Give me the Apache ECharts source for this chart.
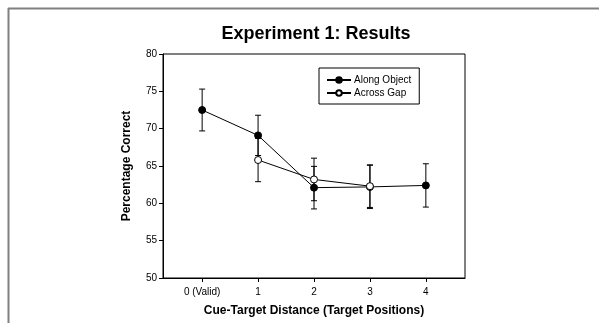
<!DOCTYPE html>
<html>
<head>
<meta charset="utf-8">
<script src="https://cdn.jsdelivr.net/npm/echarts@6/dist/echarts.min.js"></script>
<style>
  html, body { margin: 0; padding: 0; background: #fff; }
  #chart { width: 599px; height: 323px; }
</style>
</head>
<body>
<div id="chart"></div>
<script>
// data
const xLabels = ['0 (Valid)', '1', '2', '3', '4']
const alongX = [0, 1, 2, 3, 4]
const alongMean = [72.5, 69.1, 62.1, 62.2, 62.4]
const alongErr = [2.8, 2.7, 2.85, 2.9, 2.9]
const acrossX = [1, 2, 3]
const acrossMean = [65.8, 63.2, 62.3]
const acrossErr = [2.9, 2.85, 2.85]
const yTicks = [50, 55, 60, 65, 70, 75, 80]

const font = 'Arial, "Liberation Sans", sans-serif'

function pairs (xs, ys) {
  return xs.map((x, i) => [x, ys[i]])
}
function errRows (xs, ys, es) {
  return xs.map((x, i) => [x, ys[i] - es[i], ys[i] + es[i]])
}

// error bar drawer
function errorBar (params, api) {
  const lo = api.coord([api.value(0), api.value(1)])
  const hi = api.coord([api.value(0), api.value(2)])
  const cap = 3
  const style = { stroke: '#000', lineWidth: 1 }
  return {
    type: 'group',
    children: [
      { type: 'line', shape: { x1: lo[0], y1: lo[1], x2: hi[0], y2: hi[1] }, style: style },
      { type: 'line', shape: { x1: lo[0] - cap, y1: lo[1], x2: lo[0] + cap, y2: lo[1] }, style: style },
      { type: 'line', shape: { x1: hi[0] - cap, y1: hi[1], x2: hi[0] + cap, y2: hi[1] }, style: style }
    ]
  }
}

const chart = echarts.init(document.getElementById('chart'))
chart.setOption({
  animation: false,
  title: {
    text: 'Experiment 1: Results',
    left: 311,
    textAlign: 'center',
    top: 20,
    textStyle: { fontFamily: font, fontSize: 18, fontWeight: 'bold', color: '#000' }
  },
  grid: {
    left: 163,
    right: 134,
    top: 54,
    bottom: 45,
    show: true,
    borderColor: '#000',
    borderWidth: 1
  },
  legend: {
    orient: 'vertical',
    left: 319,
    top: 68,
    padding: [7, 8, 6, 7],
    itemGap: 3,
    itemWidth: 24,
    itemHeight: 7,
    borderColor: '#000',
    borderWidth: 1,
    data: ['Along Object', 'Across Gap'],
    textStyle: { fontFamily: font, fontSize: 10, color: '#000', padding: [0, 0, 0, -2] }
  },
  xAxis: {
    type: 'value',
    min: -0.7,
    max: 4.7,
    interval: 1,
    name: 'Cue-Target Distance (Target Positions)',
    nameLocation: 'middle',
    nameGap: 27,
    nameTextStyle: { fontFamily: font, fontSize: 12, fontWeight: 'bold', color: '#000' },
    axisLine: { onZero: false, lineStyle: { color: '#000' } },
    axisTick: { show: true, length: 4, lineStyle: { color: '#000' }, customValues: alongX },
    splitLine: { show: false },
    axisLabel: {
      fontFamily: font,
      fontSize: 10,
      color: '#000',
      margin: 9,
      customValues: alongX,
      formatter: v => xLabels[alongX.indexOf(v)] || ''
    }
  },
  yAxis: {
    type: 'value',
    min: 50,
    max: 80,
    interval: 5,
    name: 'Percentage Correct',
    nameLocation: 'middle',
    nameGap: 30,
    nameTextStyle: { fontFamily: font, fontSize: 12, fontWeight: 'bold', color: '#000' },
    axisLine: { show: true, onZero: false, lineStyle: { color: '#000' } },
    axisTick: { show: true, length: 4, lineStyle: { color: '#000' } },
    splitLine: { show: false },
    axisLabel: {
      fontFamily: font,
      fontSize: 10,
      color: '#000',
      margin: 6,
      formatter: v => (yTicks.indexOf(v) >= 0 ? String(v) : '')
    }
  },
  graphic: [
    // outer gray frame (left and top edges)
    { type: 'line', shape: { x1: 8.5, y1: 8, x2: 8.5, y2: 323 }, style: { stroke: '#808080', lineWidth: 2 } },
    { type: 'line', shape: { x1: 8, y1: 8.5, x2: 599, y2: 8.5 }, style: { stroke: '#808080', lineWidth: 2 } }
  ],
  series: [
    {
      type: 'custom',
      renderItem: errorBar,
      data: errRows(alongX, alongMean, alongErr),
      z: 1
    },
    {
      type: 'custom',
      renderItem: errorBar,
      data: errRows(acrossX, acrossMean, acrossErr),
      z: 1
    },
    {
      name: 'Along Object',
      type: 'line',
      data: pairs(alongX, alongMean),
      symbol: 'circle',
      symbolSize: 7,
      lineStyle: { color: '#000', width: 1 },
      itemStyle: { color: '#000', borderColor: '#000', borderWidth: 1 },
      z: 3
    },
    {
      name: 'Across Gap',
      type: 'line',
      data: pairs(acrossX, acrossMean),
      symbol: 'circle',
      symbolSize: 7,
      lineStyle: { color: '#000', width: 1 },
      itemStyle: { color: '#fff', borderColor: '#000', borderWidth: 1 },
      z: 4
    }
  ]
})
</script>
</body>
</html>
